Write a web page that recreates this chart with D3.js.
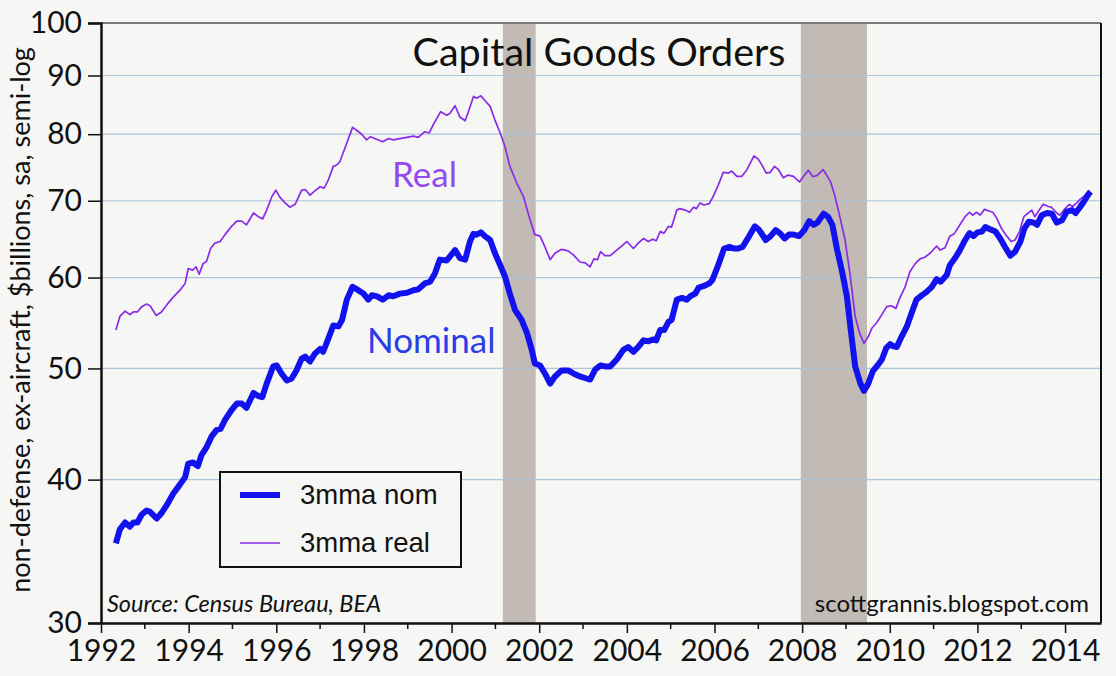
<!DOCTYPE html>
<html>
<head>
<meta charset="utf-8">
<script src="https://cdn.jsdelivr.net/npm/d3@7"></script>
<style>
  body { margin: 0; background: #f6f6f4; }
  svg { display: block; }
</style>
</head>
<body>
<div id="chart-area"></div>
<script>
// decimal years, with values ($bn, 3mma)
const realYears = [1992.34,1992.43,1992.55,1992.66,1992.74,1992.83,1992.93,1993.04,1993.12,1993.26,1993.38,1993.50,1993.65,1993.80,1993.92,1993.99,
  1994.09,1994.17,1994.24,1994.33,1994.41,1994.50,1994.60,1994.72,1994.83,1994.98,1995.10,1995.21,1995.32,1995.48,1995.59,1995.69,1995.78,1995.90,1995.99,
  1996.08,1996.20,1996.31,1996.43,1996.58,1996.66,1996.77,1996.88,1997.00,1997.09,1997.19,1997.30,1997.38,1997.45,1997.61,1997.74,1997.84,1997.95,
  1998.06,1998.15,1998.29,1998.43,1998.56,1998.67,1998.82,1998.98,1999.13,1999.24,1999.39,1999.49,1999.58,1999.75,1999.89,1999.96,
  2000.08,2000.19,2000.31,2000.38,2000.50,2000.57,2000.67,2000.76,2000.88,2000.99,2001.11,2001.22,2001.33,2001.49,2001.64,2001.77,2001.90,
  2002.02,2002.13,2002.25,2002.36,2002.51,2002.66,2002.78,2002.93,2003.05,2003.16,2003.25,2003.33,2003.40,2003.50,2003.62,2003.77,2003.88,
  2004.00,2004.15,2004.26,2004.38,2004.49,2004.59,2004.67,2004.76,2004.85,2004.95,2005.02,2005.14,2005.21,2005.33,2005.43,2005.52,2005.59,2005.67,2005.76,2005.88,2005.97,
  2006.09,2006.20,2006.32,2006.39,2006.51,2006.62,2006.74,2006.90,2007.00,2007.10,2007.18,2007.27,2007.37,2007.46,2007.57,2007.68,2007.80,2007.94,
  2008.03,2008.14,2008.24,2008.33,2008.48,2008.56,2008.65,2008.75,2008.86,2008.98,2009.09,2009.21,2009.31,2009.41,2009.51,2009.59,2009.70,2009.82,2009.93,
  2010.04,2010.14,2010.23,2010.35,2010.46,2010.58,2010.69,2010.80,2010.92,2011.07,2011.15,2011.26,2011.37,2011.47,2011.60,2011.72,2011.82,2011.89,2011.98,
  2012.06,2012.16,2012.25,2012.35,2012.44,2012.55,2012.67,2012.77,2012.86,2012.96,2013.06,2013.16,2013.24,2013.31,2013.41,2013.50,2013.62,2013.69,2013.81,2013.88,
  2014.00,2014.10,2014.17,2014.27,2014.34,2014.43,2014.53,2014.57];
const realValues = [54.0,55.5,56.1,55.7,56.0,56.0,56.6,56.9,56.7,55.6,56.0,56.8,57.7,58.5,59.3,61.1,
  60.9,61.3,60.4,61.7,62.0,63.6,64.3,64.5,65.4,66.5,67.2,67.2,66.7,68.3,67.8,67.5,68.7,70.6,71.5,
  70.5,69.7,69.1,69.5,71.5,71.6,70.8,71.4,72.0,71.8,73.0,75.0,75.2,75.7,78.6,81.1,80.6,80.0,
  79.1,79.6,79.2,78.8,79.3,79.1,79.3,79.5,79.7,79.5,80.4,80.2,81.5,83.7,83.1,83.4,
  84.7,82.8,82.2,83.6,86.3,86.0,86.4,85.6,84.6,82.3,80.2,78.0,75.0,72.5,70.6,67.8,65.4,
  65.2,63.8,62.2,63.0,63.5,63.3,62.8,61.9,61.8,61.3,62.3,62.2,63.2,62.7,62.7,63.4,63.9,
  64.5,63.6,64.3,64.9,64.5,64.8,64.6,65.8,65.6,66.5,66.4,68.7,68.9,68.7,68.4,69.1,68.9,69.7,69.4,69.6,70.6,
  72.3,74.1,74.0,74.3,73.5,73.5,74.5,76.6,76.1,75.0,74.0,74.1,75.0,74.5,73.3,73.7,73.5,72.7,
  73.5,74.4,73.5,73.6,74.5,73.7,72.7,70.6,67.8,64.7,60.5,55.5,53.7,52.6,53.3,54.2,54.8,55.7,56.6,
  56.7,56.4,57.6,58.9,60.7,61.7,62.3,62.5,63.0,63.9,63.4,63.7,65.2,65.5,66.7,67.8,68.4,68.0,68.4,
  68.0,68.8,68.6,68.4,67.6,66.2,65.2,64.5,64.7,65.8,67.8,68.3,68.7,67.8,68.7,69.5,69.2,69.1,68.3,68.0,
  68.9,69.5,69.2,69.7,70.2,70.6,71.3,71.4];

const nomYears = [1992.34,1992.43,1992.55,1992.66,1992.74,1992.83,1992.93,1993.04,1993.12,1993.27,1993.38,1993.50,1993.65,1993.80,1993.92,1993.99,
  1994.10,1994.21,1994.29,1994.41,1994.52,1994.64,1994.73,1994.83,1994.98,1995.10,1995.21,1995.32,1995.48,1995.59,1995.68,1995.78,1995.93,
  1996.01,1996.12,1996.24,1996.35,1996.46,1996.58,1996.66,1996.77,1996.88,1997.00,1997.07,1997.19,1997.30,1997.42,1997.50,1997.61,1997.74,1997.87,1997.99,
  1998.10,1998.18,1998.29,1998.43,1998.56,1998.67,1998.82,1998.98,1999.13,1999.24,1999.39,1999.51,1999.62,1999.73,1999.89,
  2000.08,2000.19,2000.31,2000.42,2000.50,2000.57,2000.67,2000.76,2000.88,2000.99,2001.11,2001.22,2001.33,2001.45,2001.60,2001.72,2001.83,2001.90,
  2002.02,2002.13,2002.25,2002.36,2002.51,2002.66,2002.78,2002.93,2003.08,2003.16,2003.28,2003.40,2003.50,2003.62,2003.77,2003.92,
  2004.03,2004.15,2004.26,2004.38,2004.49,2004.59,2004.67,2004.76,2004.85,2004.95,2005.02,2005.14,2005.26,2005.37,2005.45,2005.56,2005.64,2005.76,2005.88,2005.95,
  2006.07,2006.22,2006.34,2006.45,2006.53,2006.64,2006.76,2006.92,2007.02,2007.17,2007.28,2007.40,2007.49,2007.60,2007.70,2007.81,2007.93,
  2008.05,2008.16,2008.26,2008.35,2008.49,2008.59,2008.69,2008.80,2008.92,2009.02,2009.11,2009.21,2009.33,2009.41,2009.51,2009.61,2009.72,2009.82,2009.92,
  2010.01,2010.07,2010.16,2010.27,2010.39,2010.50,2010.61,2010.73,2010.84,2010.96,2011.07,2011.16,2011.30,2011.37,2011.49,2011.60,2011.72,2011.82,2011.91,
  2012.00,2012.10,2012.18,2012.29,2012.41,2012.52,2012.63,2012.75,2012.86,2012.98,2013.07,2013.17,2013.28,2013.36,2013.47,2013.59,2013.70,2013.81,2013.93,
  2014.04,2014.16,2014.24,2014.34,2014.43,2014.52,2014.58];
const nomValues = [35.2,36.2,36.7,36.4,36.7,36.7,37.3,37.6,37.5,37.0,37.4,38.0,38.9,39.6,40.2,41.3,
  41.4,41.1,42.0,42.7,43.6,44.2,44.3,45.1,46.0,46.6,46.6,46.2,47.6,47.3,47.2,48.5,50.2,
  50.3,49.5,48.8,49.0,49.8,51.0,51.2,50.7,51.5,52.0,51.7,53.1,54.5,54.4,55.1,57.4,58.9,58.5,58.1,
  57.4,57.9,57.8,57.4,57.9,57.8,58.1,58.2,58.5,58.6,59.3,59.5,60.5,62.2,62.1,
  63.4,62.4,62.2,64.5,65.5,65.4,65.7,65.2,64.7,63.0,61.5,60.1,58.1,56.2,55.1,53.7,51.9,50.5,
  50.3,49.5,48.5,49.2,49.8,49.8,49.5,49.2,49.0,48.9,49.9,50.3,50.2,50.2,50.9,51.9,
  52.2,51.7,52.2,52.9,52.8,53.0,52.9,54.0,54.0,54.9,55.1,57.4,57.6,57.4,57.8,58.1,58.8,59.0,59.3,59.7,
  61.3,63.6,63.8,63.6,63.6,63.8,64.9,66.5,66.0,64.7,65.2,66.0,65.6,64.9,65.4,65.4,65.2,
  66.0,67.2,66.7,67.0,68.2,67.8,66.7,63.4,60.5,57.8,54.0,50.2,48.5,47.8,48.5,49.7,50.3,50.9,52.1,
  52.5,52.3,52.2,53.3,54.4,55.9,57.4,57.9,58.3,58.9,59.8,59.5,60.3,61.5,62.4,63.4,64.7,65.6,65.2,
  65.7,65.8,66.4,66.1,65.8,64.9,63.8,62.7,63.2,64.5,66.2,67.1,67.0,66.7,68.0,68.3,68.2,67.0,67.3,
  68.5,68.7,68.3,69.1,69.9,70.8,71.3];

const recessions = [[2001.17, 2001.92], [2007.97, 2009.48]];
const yTicks = [30, 40, 50, 60, 70, 80, 90, 100];
const yGrid = [40, 50, 60, 70, 80, 90];
const xMajor = [1992, 1994, 1996, 1998, 2000, 2002, 2004, 2006, 2008, 2010, 2012, 2014];
const xMinor = [1993, 1995, 1997, 1999, 2001, 2003, 2005, 2007, 2009, 2011, 2013];

const W = 1116, H = 676;
const margin = {top: 23, right: 15, bottom: 53, left: 101};
const width = W - margin.left - margin.right;
const height = H - margin.top - margin.bottom;

const futura = "Lato, 'Noto Sans', sans-serif";
const helv = "'Liberation Sans', Arial, sans-serif";

const svg = d3.select('#chart-area')
  .append('svg')
  .attr('width', W)
  .attr('height', H);

svg.append('rect').attr('width', W).attr('height', H).attr('fill', '#f6f6f4');

const g = svg.append('g')
  .attr('transform', `translate(${margin.left}, ${margin.top})`);

// scales
const x = d3.scaleLinear().domain([1992, 2014.82]).range([0, width]);
const y = d3.scaleLog().domain([30, 100]).range([height, 0]);

// recession bands
g.selectAll('.band')
  .data(recessions)
  .enter()
  .append('rect')
  .attr('x', d => x(d[0]))
  .attr('y', 0)
  .attr('width', d => x(d[1]) - x(d[0]))
  .attr('height', height)
  .attr('fill', '#c1bab5');

// gridlines
g.selectAll('.grid')
  .data(yGrid)
  .enter()
  .append('line')
  .attr('x1', 0).attr('x2', width)
  .attr('y1', d => y(d)).attr('y2', d => y(d))
  .attr('stroke', '#aac4da')
  .attr('stroke-width', 1.2);

// lines
const line = d3.line()
  .x(d => x(d[0]))
  .y(d => y(d[1]));

g.append('path')
  .datum(d3.zip(realYears, realValues))
  .attr('d', line)
  .attr('fill', 'none')
  .attr('stroke', '#8a2be8')
  .attr('stroke-width', 1.7)
  .attr('stroke-linejoin', 'round');

g.append('path')
  .datum(d3.zip(nomYears, nomValues))
  .attr('d', line)
  .attr('fill', 'none')
  .attr('stroke', '#1212ee')
  .attr('stroke-width', 6)
  .attr('stroke-linejoin', 'round');

// frame
g.append('line').attr('x1', 0).attr('x2', width).attr('y1', 0).attr('y2', 0)
  .attr('stroke', '#7a7a7a').attr('stroke-width', 2);
g.append('line').attr('x1', width).attr('x2', width).attr('y1', 0).attr('y2', height)
  .attr('stroke', '#111').attr('stroke-width', 2);

// y axis
const yAxis = d3.axisLeft(y)
  .tickValues(yTicks)
  .tickFormat(d3.format('d'))
  .tickSize(13)
  .tickPadding(6);
const yA = g.append('g').attr('class', 'y axis').call(yAxis);
yA.select('.domain').attr('stroke', '#111').attr('stroke-width', 2.5);
yA.selectAll('.tick line').attr('stroke', '#111').attr('stroke-width', 1.5);
yA.selectAll('text')
  .attr('font-family', futura)
  .attr('font-size', 30)
  .attr('fill', '#111');

// x axis
const xAxis = d3.axisBottom(x)
  .tickValues(xMajor)
  .tickFormat(d3.format('d'))
  .tickSize(10)
  .tickPadding(7)
  .tickSizeOuter(0);
const xA = g.append('g').attr('class', 'x axis')
  .attr('transform', `translate(0, ${height})`)
  .call(xAxis);
xA.select('.domain').attr('stroke', '#111').attr('stroke-width', 2.5);
xA.selectAll('.tick line').attr('stroke', '#111').attr('stroke-width', 1.5);
xA.selectAll('text')
  .attr('font-family', futura)
  .attr('font-size', 30)
  .attr('fill', '#111');

xA.selectAll('.minor')
  .data(xMinor)
  .enter()
  .append('line')
  .attr('x1', d => x(d)).attr('x2', d => x(d))
  .attr('y1', 0).attr('y2', 6)
  .attr('stroke', '#111').attr('stroke-width', 1.5);

// title and labels
svg.append('text')
  .attr('x', 599).attr('y', 66)
  .attr('text-anchor', 'middle')
  .attr('font-family', futura)
  .attr('font-size', 39.5)
  .attr('fill', '#111')
  .text('Capital Goods Orders');

svg.append('text')
  .attr('x', 392).attr('y', 187)
  .attr('font-family', futura)
  .attr('font-size', 35)
  .attr('fill', '#9449f0')
  .text('Real');

svg.append('text')
  .attr('x', 367).attr('y', 353)
  .attr('font-family', futura)
  .attr('font-size', 35)
  .attr('fill', '#2a3ee8')
  .text('Nominal');

svg.append('text')
  .attr('transform', 'translate(30, 320) rotate(-90)')
  .attr('text-anchor', 'middle')
  .attr('font-family', futura)
  .attr('font-size', 27)
  .attr('fill', '#111')
  .text('non-defense, ex-aircraft, $billions, sa, semi-log');

svg.append('text')
  .attr('x', 107).attr('y', 612)
  .attr('font-family', futura)
  .attr('font-style', 'italic')
  .attr('font-size', 23.5)
  .attr('fill', '#111')
  .text('Source: Census Bureau, BEA');

svg.append('text')
  .attr('x', 1089).attr('y', 612)
  .attr('text-anchor', 'end')
  .attr('font-family', futura)
  .attr('font-size', 24)
  .attr('fill', '#111')
  .text('scottgrannis.blogspot.com');

// legend
const leg = svg.append('g').attr('transform', 'translate(220, 472)');
leg.append('rect')
  .attr('width', 241).attr('height', 95)
  .attr('fill', '#f6f6f4')
  .attr('stroke', '#111').attr('stroke-width', 2);
const legItems = [
  {label: '3mma nom', color: '#1212ee', w: 6},
  {label: '3mma real', color: '#8a2be8', w: 1.7}
];
const li = leg.selectAll('.item')
  .data(legItems)
  .enter()
  .append('g')
  .attr('transform', (d, i) => `translate(0, ${23 + i * 48})`);
li.append('line')
  .attr('x1', 20).attr('x2', 60)
  .attr('stroke', d => d.color)
  .attr('stroke-width', d => d.w);
li.append('text')
  .attr('x', 80).attr('y', 9)
  .attr('font-family', helv)
  .attr('font-size', 27.5)
  .attr('fill', '#111')
  .text(d => d.label);
</script>
</body>
</html>
